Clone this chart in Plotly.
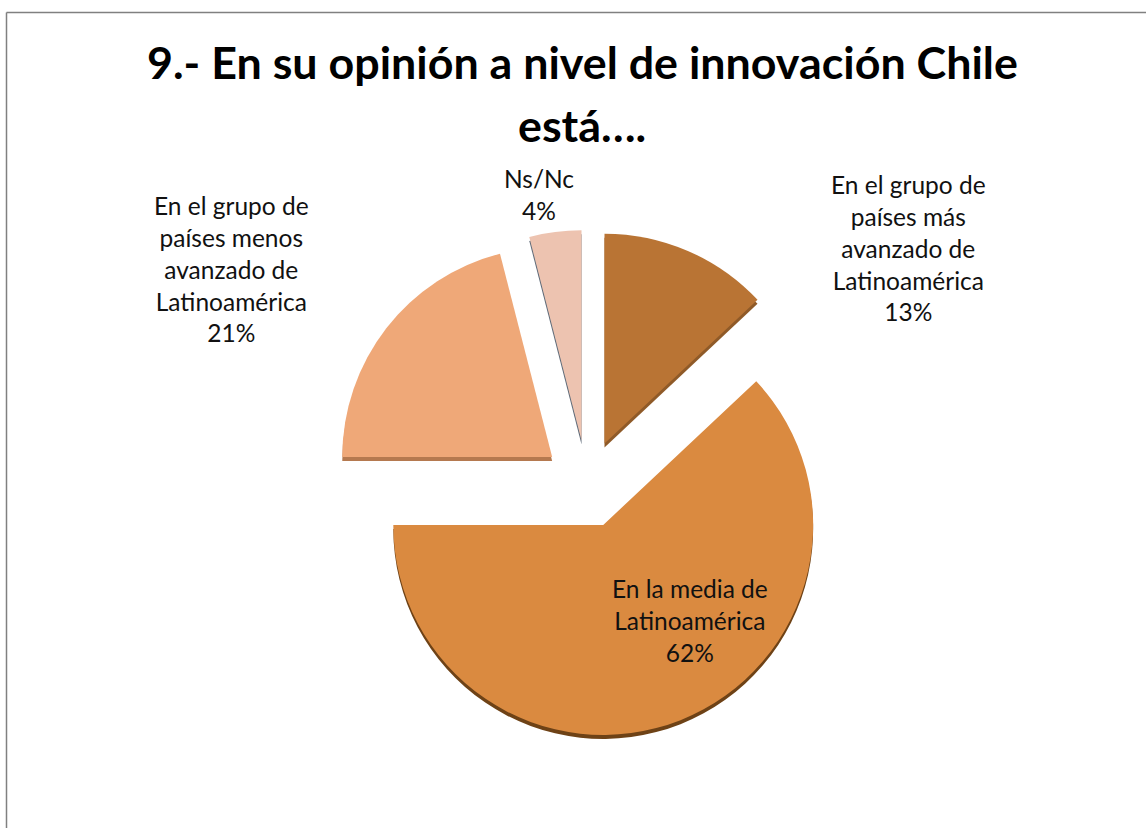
import plotly.graph_objects as go

W, H = 1146, 828
labels = ["En el grupo de<br>países más<br>avanzado de<br>Latinoamérica<br>13%",
          "En la media de<br>Latinoamérica<br>62%",
          "En el grupo de<br>países menos<br>avanzado de<br>Latinoamérica<br>21%",
          "Ns/Nc<br>4%"]
values = [13, 62, 21, 4]
colors = ["#B97434", "#DA8A40", "#EFA878", "#EDC3B0"]
shadow = ["#8F5A28", "#6E4216", "#B5794F", "#5E6A78"]
label_pos = [(908, 248), (690, 620), (231, 269), (539, 195)]
title_lines = ["9.- En su opinión a nivel de innovación Chile", "está…."]
title_pos = [(582, 62), (582, 125)]
FONT = "Lato"
cx, cy, half = 587, 484, 254

def px(x):
    return x / W

def py(y):
    return 1 - y / H

def dom(dy=0):
    return dict(x=[px(cx - half), px(cx + half)], y=[py(cy + dy + half), py(cy + dy - half)])

fig = go.Figure()
fig.add_trace(go.Pie(values=values, sort=False, direction="clockwise", rotation=0, pull=0.21,
                     marker=dict(colors=shadow, line=dict(width=0)), textinfo="none",
                     hoverinfo="skip", showlegend=False, domain=dom(4)))
fig.add_trace(go.Pie(values=values, sort=False, direction="clockwise", rotation=0, pull=0.21,
                     marker=dict(colors=colors, line=dict(width=0)), textinfo="none",
                     showlegend=False, domain=dom(0)))
anns = [dict(x=px(x), y=py(y), xref="paper", yref="paper", text=t, showarrow=False,
             font=dict(family=FONT, size=24.5, color="#111"), align="center", xanchor="center", yanchor="middle")
        for t, (x, y) in zip(labels, label_pos)]
anns += [dict(x=px(x), y=py(y), xref="paper", yref="paper", text=f"<b>{t}</b>", showarrow=False,
              font=dict(family=FONT, size=44.8, color="#000"), align="center", xanchor="center", yanchor="middle")
         for t, (x, y) in zip(title_lines, title_pos)]
border = dict(color="#808080", width=1.5)
fig.update_layout(width=W, height=H, margin=dict(l=0, r=0, t=0, b=0), paper_bgcolor="white",
                  annotations=anns,
                  shapes=[dict(type="line", xref="paper", yref="paper", x0=px(6.5), x1=1, y0=py(12.5), y1=py(12.5), line=border),
                          dict(type="line", xref="paper", yref="paper", x0=px(6.5), x1=px(6.5), y0=0, y1=py(12.5), line=border)])
fig.write_html("out.html", config=dict(displayModeBar=False), post_script="document.body.style.margin='0';")
